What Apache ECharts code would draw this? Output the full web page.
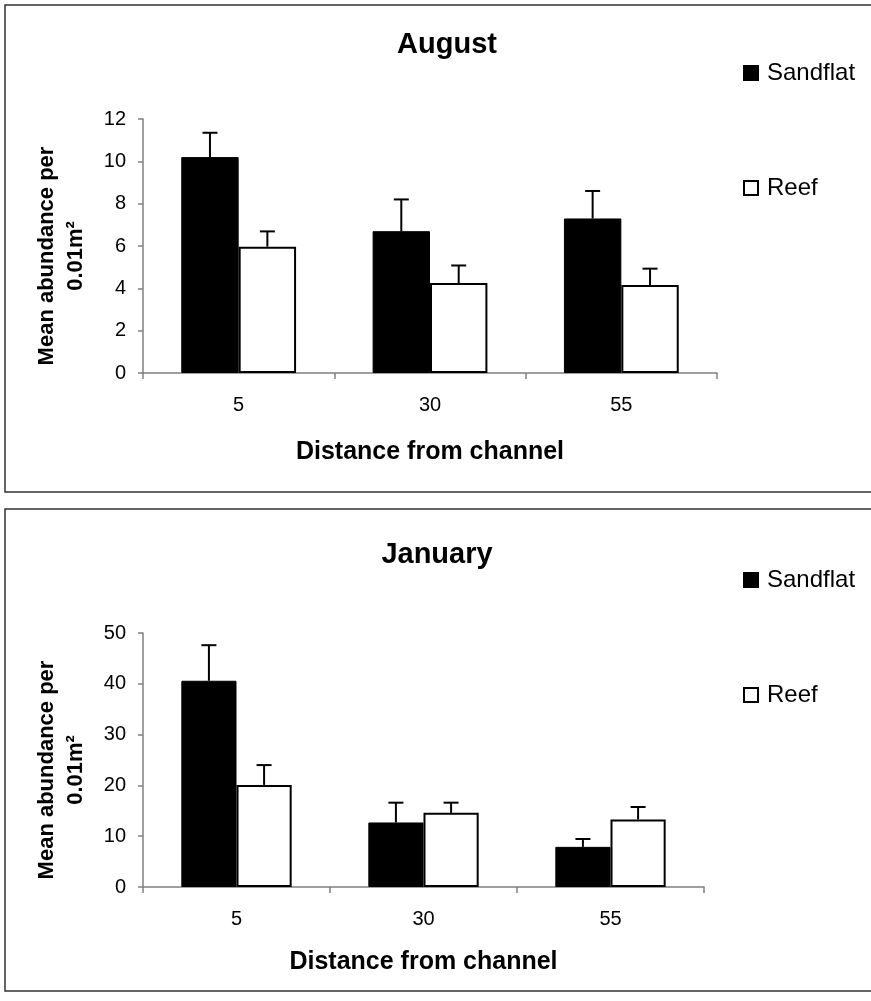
<!DOCTYPE html>
<html>
<head>
<meta charset="utf-8">
<script src="https://cdn.jsdelivr.net/npm/echarts@6/dist/echarts.min.js"></script>
<style>
html,body{margin:0;padding:0;background:#fff;}
#chart{width:871px;height:1001px;}
</style>
</head>
<body>
<div id="chart"></div>
<script>
// ---- data ----
const categories = ['5', '30', '55'];
const augSandflat = [10.2, 6.7, 7.3];
const augSandflatErr = [1.15, 1.5, 1.3];
const augReef = [5.97, 4.25, 4.16];
const augReefErr = [0.72, 0.83, 0.77];
const janSandflat = [40.6, 12.7, 7.9];
const janSandflatErr = [7.0, 3.9, 1.55];
const janReef = [20.1, 14.6, 13.3];
const janReefErr = [3.9, 2.0, 2.45];
const augTicks = {min: 0, max: 12, interval: 2};
const janTicks = {min: 0, max: 50, interval: 10};

const FONT = 'Arial, "Liberation Sans", sans-serif';
const AXIS_COLOR = '#808080';

function errData(means, errs) {
  return means.map((m, i) => [i, m, m + errs[i]]);
}

function errRender(side, gapFrac) {
  return function (params, api) {
    const x = api.value(0);
    const base = api.coord([x, api.value(1)]);
    const top = api.coord([x, api.value(2)]);
    const band = api.size([1, 0])[0];
    const barW = band * (1 - gapFrac) / 2;
    const cx = base[0] + side * barW / 2;
    const capHalf = 7.5;
    const style = {stroke: '#000', lineWidth: 2};
    return {
      type: 'group',
      children: [
        {type: 'line', shape: {x1: cx, y1: base[1], x2: cx, y2: top[1]}, style: style},
        {type: 'line', shape: {x1: cx - capHalf, y1: top[1], x2: cx + capHalf, y2: top[1]}, style: style}
      ]
    };
  };
}

function xAxis(gridIndex, gap) {
  return {
    type: 'category', gridIndex: gridIndex, data: categories,
    name: 'Distance from channel', nameLocation: 'middle', nameGap: gap,
    nameTextStyle: {fontFamily: FONT, fontSize: 25, fontWeight: 'bold', color: '#000'},
    axisLine: {lineStyle: {color: AXIS_COLOR, width: 1.5}},
    axisTick: {show: true, alignWithLabel: false, length: 6, lineStyle: {color: AXIS_COLOR, width: 1.5}},
    axisLabel: {fontFamily: FONT, fontSize: 20, color: '#000', margin: 22},
    splitLine: {show: false}
  };
}

function yAxis(gridIndex, t) {
  return {
    type: 'value', gridIndex: gridIndex, min: t.min, max: t.max, interval: t.interval,
    name: 'Mean abundance per\n0.01m²', nameLocation: 'middle', nameGap: 53, nameRotate: 90,
    nameTextStyle: {fontFamily: FONT, fontSize: 22, fontWeight: 'bold', color: '#000', lineHeight: 29,
                    padding: [0, 20, 0, 0]},
    axisLine: {show: true, lineStyle: {color: AXIS_COLOR, width: 1.5}},
    axisTick: {show: true, length: 5, inside: false, lineStyle: {color: AXIS_COLOR, width: 1.5}},
    axisLabel: {fontFamily: FONT, fontSize: 20, color: '#000', margin: 17},
    splitLine: {show: false}
  };
}

const gapTop = 0.40, gapBot = 0.41;

const option = {
  backgroundColor: '#fff',
  animation: false,
  title: [
    {text: 'August', left: 447, top: 30, textAlign: 'center', padding: 0,
     textStyle: {fontFamily: FONT, fontSize: 29, fontWeight: 'bold', color: '#000'}},
    {text: 'January', left: 437, top: 540, textAlign: 'center', padding: 0,
     textStyle: {fontFamily: FONT, fontSize: 29, fontWeight: 'bold', color: '#000'}}
  ],
  legend: [
    {data: ['Sandflat', 'Reef'], orient: 'vertical', left: 743, top: 61, padding: 0,
     itemWidth: 14, itemHeight: 14, itemGap: 91, icon: 'rect', selectedMode: false,
     textStyle: {fontFamily: FONT, fontSize: 24, color: '#000', lineHeight: 24, padding: [0, 0, 0, 4]}},
    {data: ['Sandflat', 'Reef'], orient: 'vertical', left: 743, top: 568, padding: 0,
     itemWidth: 14, itemHeight: 14, itemGap: 91, icon: 'rect', selectedMode: false,
     textStyle: {fontFamily: FONT, fontSize: 24, color: '#000', lineHeight: 24, padding: [0, 0, 0, 4]}}
  ],
  grid: [
    {left: 143, top: 119, width: 574, height: 254, containLabel: false, outerBoundsMode: 'none'},
    {left: 143, top: 633, width: 561, height: 254, containLabel: false, outerBoundsMode: 'none'}
  ],
  xAxis: [xAxis(0, 67), xAxis(1, 63)],
  yAxis: [yAxis(0, augTicks), yAxis(1, janTicks)],
  graphic: [
    {type: 'rect', shape: {x: 5, y: 5, width: 900, height: 487}, style: {fill: 'none', stroke: '#333', lineWidth: 1.5}, silent: true, z: -1},
    {type: 'rect', shape: {x: 5, y: 509, width: 900, height: 482}, style: {fill: 'none', stroke: '#333', lineWidth: 1.5}, silent: true, z: -1}
  ],
  series: [
    {name: 'Sandflat', type: 'bar', xAxisIndex: 0, yAxisIndex: 0, data: augSandflat,
     barGap: '0%', barCategoryGap: (gapTop * 100) + '%', itemStyle: {color: '#000', borderColor: '#000', borderWidth: 1}},
    {name: 'Reef', type: 'bar', xAxisIndex: 0, yAxisIndex: 0, data: augReef,
     barGap: '0%', barCategoryGap: (gapTop * 100) + '%', itemStyle: {color: '#fff', borderColor: '#000', borderWidth: 2}},
    {name: 'Sandflat', type: 'bar', xAxisIndex: 1, yAxisIndex: 1, data: janSandflat,
     barGap: '0%', barCategoryGap: (gapBot * 100) + '%', itemStyle: {color: '#000', borderColor: '#000', borderWidth: 1}},
    {name: 'Reef', type: 'bar', xAxisIndex: 1, yAxisIndex: 1, data: janReef,
     barGap: '0%', barCategoryGap: (gapBot * 100) + '%', itemStyle: {color: '#fff', borderColor: '#000', borderWidth: 2}},
    {name: 'errAugSandflat', type: 'custom', xAxisIndex: 0, yAxisIndex: 0, z: 5,
     data: errData(augSandflat, augSandflatErr), encode: {x: 0, y: 1}, renderItem: errRender(-1, gapTop)},
    {name: 'errAugReef', type: 'custom', xAxisIndex: 0, yAxisIndex: 0, z: 5,
     data: errData(augReef, augReefErr), encode: {x: 0, y: 1}, renderItem: errRender(1, gapTop)},
    {name: 'errJanSandflat', type: 'custom', xAxisIndex: 1, yAxisIndex: 1, z: 5,
     data: errData(janSandflat, janSandflatErr), encode: {x: 0, y: 1}, renderItem: errRender(-1, gapBot)},
    {name: 'errJanReef', type: 'custom', xAxisIndex: 1, yAxisIndex: 1, z: 5,
     data: errData(janReef, janReefErr), encode: {x: 0, y: 1}, renderItem: errRender(1, gapBot)}
  ]
};

const chart = echarts.init(document.getElementById('chart'), null, {renderer: 'canvas'});
chart.setOption(option);
</script>
</body>
</html>
